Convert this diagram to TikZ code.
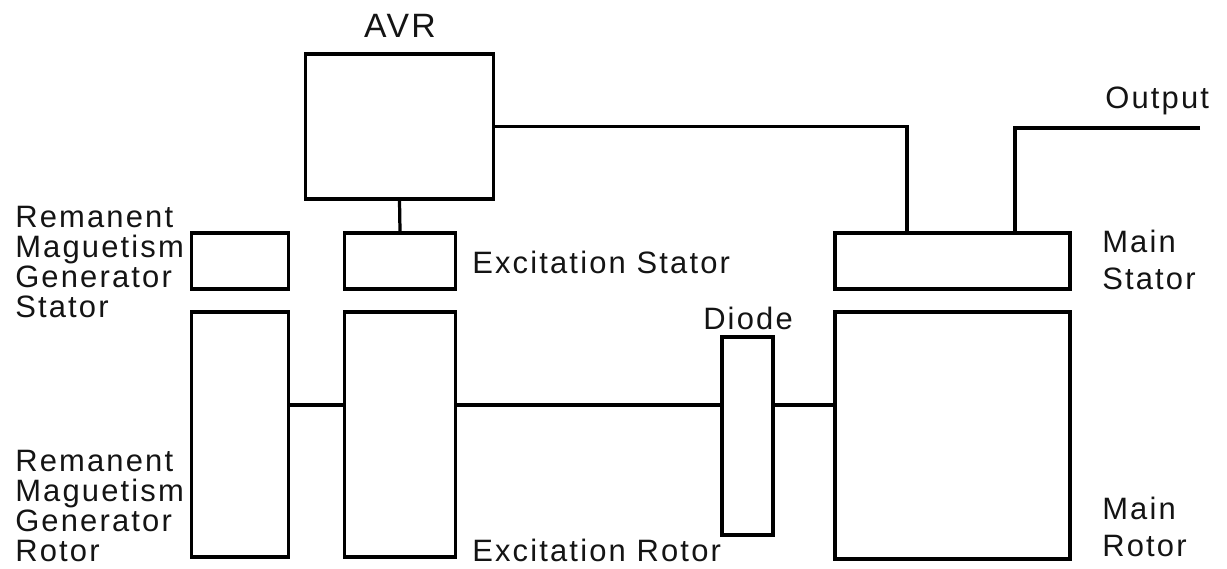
\documentclass[tikz,border=0pt]{standalone}
\usepackage{fontspec}
\setmainfont{Liberation Sans}[LetterSpace=7]
\usepackage{tikz}
\usetikzlibrary{positioning,calc}
\definecolor{LabelGray}{RGB}{20,20,20}

\begin{document}
\begin{tikzpicture}[
  x=0.025cm, y=-0.025cm,
  part/.style={
    draw,
    line width=2.3pt,
    inner sep=0pt,
    fill=white
  },
  wire/.style={line width=2.3pt},
  lab/.style={inner sep=0pt,align=left,text=LabelGray,
    font=\fontsize{22}{21.3}\selectfont},
  biglab/.style={inner sep=0pt,align=left,text=LabelGray,
    font=\fontsize{22}{26.3}\selectfont}
]
\useasboundingbox (0,0) rectangle (1227,568);

% stators and the regulator
\node[part,minimum width=4.7cm,minimum height=3.625cm] (avr) at (399.5,126.5) {};
\node[part,minimum width=2.425cm,minimum height=1.4cm] (rstator) at (240,261) {};
\node[part,minimum width=2.79cm,minimum height=1.4cm] (estator) at (400,261) {};
\node[part,minimum width=5.875cm,minimum height=1.4cm] (mstator) at (952.5,261) {};

% rotors on the shaft
\node[part,minimum width=2.425cm,minimum height=6.125cm] (rrotor) at (240,434.5) {};
\node[part,minimum width=2.79cm,minimum height=6.125cm] (erotor) at (400,434.5) {};
\node[part,minimum width=1.275cm,minimum height=4.95cm] (diode) at (747.5,436) {};
\node[part,minimum width=5.875cm,minimum height=6.175cm] (mrotor) at (952.5,435.5) {};

\coordinate (shaft) at (0,405);
\coordinate (output) at (1200,128);

% labels
\node[lab,anchor=base,font=\fontsize{24}{26}\selectfont] (avrlab) at (400,37) {AVR};
\node[lab,anchor=north west] (rstatorlab) at (15,206) {Remanent\\Maguetism\\Generator\\Stator};
\node[lab,anchor=north west] (rrotorlab) at (15,450) {Remanent\\Maguetism\\Generator\\Rotor};
\node[lab,anchor=base west] (estatorlab) at (472,273) {Excitation Stator};
\node[lab,anchor=base west] (erotorlab) at (472,561) {Excitation Rotor};
\node[lab,anchor=base] (diodelab) at (748,329) {Diode};
\node[biglab,anchor=north west] (mstatorlab) at (1102,230) {Main\\Stator};
\node[biglab,anchor=north west] (mrotorlab) at (1102,497) {Main\\Rotor};
\node[lab,anchor=base west] (outlab) at (1105,108) {Output};

% wiring
\draw[wire] (avr.south) -- (estator.north);
\draw[wire] (avr.east) -| ([xshift=-1.1375cm]mstator.north);
\draw[wire] (output) -| ([xshift=1.5625cm]mstator.north);

\draw[wire] (rrotor.east |- shaft) -- (erotor.west |- shaft);
\draw[wire] (erotor.east |- shaft) -- (diode.west |- shaft);
\draw[wire] (diode.east |- shaft) -- (mrotor.west |- shaft);
\end{tikzpicture}
\end{document}
